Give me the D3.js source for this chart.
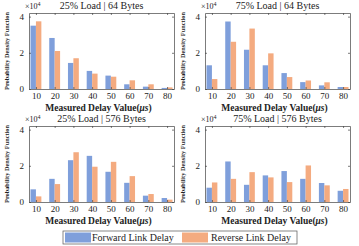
<!DOCTYPE html>
<html>
<head>
<meta charset="utf-8">
<script src="https://d3js.org/d3.v7.min.js"></script>
<style>
  body { margin:0; background:#fff; }
  text { font-family:"Liberation Serif","Times New Roman",serif; fill:#222; }
</style>
</head>
<body>
<svg id="plot"></svg>
<script>
// delay bins (us)
var delays = [10,20,30,40,50,60,70,80];
var yTicks = [0,2,4];
var seriesNames = ["Forward Link Delay","Reverse Link Delay"];
var colors = ["#7f9fdb","#f4ab80"];

// probability density values, x10^4
var fwd25_64  = [3.50,2.82,1.44,1.00,0.74,0.26,0.13,0.06];
var rev25_64  = [3.74,2.10,1.70,0.85,0.68,0.48,0.26,0.09];
var fwd75_64  = [1.31,3.73,2.17,1.31,0.88,0.38,0.20,0.11];
var rev75_64  = [0.55,2.61,3.34,1.97,0.66,0.47,0.37,0.11];
var fwd25_576 = [0.70,1.28,2.31,2.55,1.67,1.06,0.35,0.22];
var rev25_576 = [0.31,0.99,2.75,1.95,2.22,1.43,0.44,0.13];
var fwd75_576 = [0.79,2.24,0.95,1.47,1.71,1.28,1.05,0.62];
var rev75_576 = [1.08,1.28,1.65,1.36,1.10,2.02,0.92,0.72];

var titles = ["25% Load | 64 Bytes","75% Load | 64 Bytes","25% Load | 576 Bytes","75% Load | 576 Bytes"];

var panels = [
  {title:titles[0], fwd:fwd25_64,  rev:rev25_64,  x0:29,  x1:174, y0:13,  y1:89},
  {title:titles[1], fwd:fwd75_64,  rev:rev75_64,  x0:205, x1:350, y0:13,  y1:89},
  {title:titles[2], fwd:fwd25_576, rev:rev25_576, x0:29,  x1:174, y0:126, y1:202},
  {title:titles[3], fwd:fwd75_576, rev:rev75_576, x0:205, x1:350, y0:126, y1:202}
];

var svg = d3.select("#plot").attr("width",359).attr("height",246);

var barW = 2.9; // data units

panels.forEach(function(p)
{
    var xScale = d3.scaleLinear().domain([6.3,83.7]).range([p.x0,p.x1]);
    var yScale = d3.scaleLinear().domain([0,4.2]).range([p.y1,p.y0]);

    var g = svg.append("g");

    // bars
    g.selectAll("rect.fwd")
        .data(p.fwd)
        .enter().append("rect")
        .attr("x",function(d,i){ return xScale(delays[i]-barW); })
        .attr("width",xScale(barW)-xScale(0))
        .attr("y",function(d){ return yScale(d); })
        .attr("height",function(d){ return yScale(0)-yScale(d); })
        .attr("fill",colors[0]);

    g.selectAll("rect.rev")
        .data(p.rev)
        .enter().append("rect")
        .attr("x",function(d,i){ return xScale(delays[i]); })
        .attr("width",xScale(barW)-xScale(0))
        .attr("y",function(d){ return yScale(d); })
        .attr("height",function(d){ return yScale(0)-yScale(d); })
        .attr("fill",colors[1]);

    // axes, ticks inward, box on
    var bottom = g.append("g").attr("transform","translate(0,"+p.y1+")")
        .call(d3.axisBottom(xScale).tickValues(delays).tickSizeInner(-2).tickSizeOuter(0).tickPadding(4));
    var top = g.append("g").attr("transform","translate(0,"+p.y0+")")
        .call(d3.axisTop(xScale).tickValues(delays).tickSizeInner(-2).tickSizeOuter(0).tickFormat(""));
    var left = g.append("g").attr("transform","translate("+p.x0+",0)")
        .call(d3.axisLeft(yScale).tickValues(yTicks).tickFormat(d3.format("d")).tickSizeInner(-2).tickSizeOuter(0).tickPadding(5));
    var right = g.append("g").attr("transform","translate("+p.x1+",0)")
        .call(d3.axisRight(yScale).tickValues(yTicks).tickSizeInner(-2).tickSizeOuter(0).tickFormat(""));

    [bottom,top,left,right].forEach(function(a)
    {
        a.selectAll("path,line").attr("stroke","#444").attr("stroke-width",0.7);
        a.selectAll("text").style("font-family","Liberation Serif").style("font-size","9px").attr("fill","#222");
    });

    // title
    g.append("text")
        .attr("x",(p.x0+p.x1)/2)
        .attr("y",p.y0-4)
        .attr("text-anchor","middle")
        .style("font-size","10px")
        .text(p.title);

    // exponent
    var ex = g.append("text")
        .attr("x",p.x0-4)
        .attr("y",p.y0-4)
        .style("font-size","8px")
        .attr("fill","#444")
        .text("\u00d710");
    ex.append("tspan").attr("dy",-3).style("font-size","6px").text("4");

    // y label
    g.append("text")
        .attr("transform","translate("+(p.x0-20)+","+((p.y0+p.y1)/2)+") rotate(-90)")
        .attr("text-anchor","middle")
        .style("font-size","6.3px")
        .style("font-weight","bold")
        .text("Probability Density Function");

    // x label
    var xl = g.append("text")
        .attr("x",(p.x0+p.x1)/2-3)
        .attr("y",p.y1+22)
        .attr("text-anchor","middle")
        .style("font-size","9.5px")
        .style("font-weight","bold")
        .text("Measured Delay Value(");
    xl.append("tspan").style("font-style","italic").text("\u03bcs");
    xl.append("tspan").text(")");
});

// legend
var legend = svg.append("g");
legend.append("rect")
    .attr("x",63).attr("y",231).attr("width",234).attr("height",13)
    .attr("fill","#fff").attr("stroke","#555").attr("stroke-width",0.7);

var items = [{x:65, tx:92},{x:182, tx:211}];
items.forEach(function(it,i)
{
    legend.append("rect")
        .attr("x",it.x).attr("y",232.5).attr("width",26).attr("height",10)
        .attr("fill",colors[i]);
    legend.append("text")
        .attr("x",it.tx).attr("y",241)
        .style("font-size","10px")
        .text(seriesNames[i]);
});
</script>
</body>
</html>
